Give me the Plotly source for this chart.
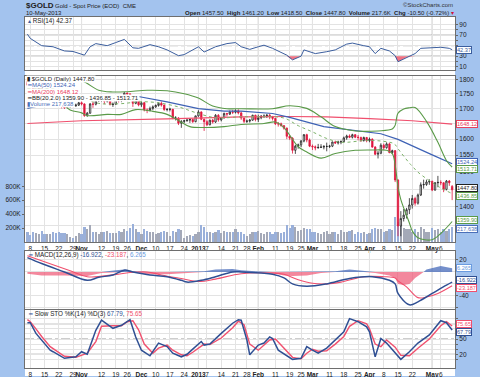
import math
import pandas as pd
import plotly.graph_objects as go

FONT = "Liberation Sans"

# ---------------- data ----------------
HOLIDAYS = ["2012-11-22", "2012-12-25", "2013-01-01", "2013-01-21", "2013-02-18", "2013-03-29"]
dates = [d.strftime("%Y-%m-%d") for d in pd.bdate_range("2012-10-05", "2013-05-10")
         if d.strftime("%Y-%m-%d") not in HOLIDAYS]

open_ = [1792,1780,1775,1764,1764,1770,1756,1738,1746,1752,
         1743,1724,1723,1707,1703,1712,1713,1709,1711,1719,
         1715,1676,1684,1715,1714,1725,1731,1731,1724,1730,
         1713,1714,1733,1726,1727,1752,1749,1742,1717,1725,
         1712,1719,1695,1693,1700,1705,1710,1717,1711,1696,
         1697,1697,1667,1668,1651,1657,1659,1661,1663,1656,
         1675,1688,1664,1656,1646,1661,1655,1677,1662,1669,
         1683,1681,1688,1687,1692,1685,1668,1657,1658,1661,
         1677,1663,1669,1674,1674,1677,1671,1667,1649,1649,
         1643,1635,1609,1603,1565,1578,1582,1594,1614,1597,
         1578,1576,1573,1574,1575,1577,1577,1578,1591,1588,
         1591,1592,1604,1610,1606,1614,1606,1605,1596,1605,
         1595,1600,1575,1553,1556,1581,1573,1585,1558,1564,
         1476,1348,1368,1377,1392,1405,1423,1410,1433,1462,
         1463,1470,1472,1447,1468,1469,1468,1449,1473,1457.5]
high = [1796,1785,1780,1770,1776,1772,1758,1750,1756,1755,
        1745,1730,1726,1716,1718,1718,1715,1716,1722,1725,
        1717,1688,1718,1725,1732,1738,1735,1733,1735,1731,
        1720,1737,1736,1734,1755,1754,1752,1744,1730,1728,
        1723,1722,1700,1706,1710,1713,1720,1723,1713,1700,
        1702,1698,1674,1671,1661,1662,1667,1667,1665,1676,
        1694,1690,1666,1661,1663,1665,1681,1681,1671,1686,
        1685,1693,1695,1697,1697,1690,1670,1663,1665,1679,
        1679,1679,1678,1680,1681,1682,1675,1668,1655,1653,
        1645,1637,1612,1606,1582,1586,1597,1616,1617,1602,
        1583,1580,1585,1584,1581,1589,1582,1592,1595,1595,
        1596,1608,1614,1615,1617,1616,1613,1608,1608,1607,
        1605,1602,1578,1563,1587,1586,1590,1589,1567,1566,
        1478,1388,1394,1397,1424,1433,1428,1437,1469,1477,
        1477,1478,1474,1470,1488,1475,1469,1476,1476,1461.2]
low = [1776,1771,1760,1759,1762,1752,1733,1735,1742,1738,
       1720,1717,1700,1698,1700,1702,1704,1705,1708,1710,
       1672,1672,1682,1702,1710,1722,1722,1714,1720,1710,
       1705,1712,1720,1721,1725,1742,1737,1705,1714,1707,
       1705,1690,1684,1690,1694,1702,1706,1706,1692,1690,
       1690,1664,1660,1645,1636,1651,1656,1652,1652,1654,
       1672,1661,1626,1642,1644,1650,1652,1656,1657,1666,
       1673,1678,1681,1683,1680,1662,1651,1652,1653,1659,
       1657,1655,1664,1668,1668,1664,1660,1645,1640,1640,
       1630,1600,1597,1555,1554,1570,1575,1590,1590,1575,
       1566,1565,1570,1572,1568,1562,1572,1575,1585,1583,
       1584,1590,1598,1603,1602,1603,1596,1591,1592,1590,
       1590,1573,1550,1540,1553,1566,1570,1556,1553,1470,
       1321,1321,1360,1368,1380,1395,1403,1406,1430,1451,
       1459,1462,1444,1445,1455,1461,1441,1446,1459,1418.5]
close = [1780,1775,1764,1764,1770,1756,1738,1746,1752,1743,
         1724,1723,1707,1703,1712,1713,1709,1711,1719,1715,
         1676,1684,1715,1714,1725,1731,1731,1724,1730,1713,
         1714,1733,1726,1727,1752,1749,1742,1717,1725,1712,
         1719,1695,1693,1700,1705,1710,1717,1711,1696,1697,
         1697,1667,1668,1651,1657,1659,1661,1663,1656,1675,
         1688,1664,1656,1646,1661,1655,1677,1662,1669,1683,
         1681,1688,1687,1692,1685,1668,1657,1658,1661,1677,
         1663,1669,1674,1674,1677,1671,1667,1649,1649,1643,
         1635,1609,1603,1565,1578,1582,1594,1614,1597,1578,
         1576,1573,1574,1575,1577,1577,1578,1591,1588,1591,
         1592,1604,1610,1606,1614,1606,1605,1596,1605,1595,
         1600,1575,1553,1556,1581,1573,1585,1558,1564,1476,
         1348,1368,1377,1392,1405,1423,1410,1433,1462,1463,
         1470,1472,1447,1468,1469,1468,1449,1473,1468,1447.8]
volume_k = [150,95,140,125,120,160,110,110,115,150,
            130,145,135,130,110,70,60,80,125,120,
            210,180,250,150,150,120,140,150,165,130,
            130,125,160,150,180,160,200,260,190,145,
            120,185,160,150,140,110,130,140,160,150,
            90,160,150,180,170,60,80,100,80,110,
            150,240,210,140,140,130,150,170,130,160,
            140,150,140,190,150,150,120,90,110,150,
            140,160,130,120,140,150,120,150,140,130,
            150,240,200,250,210,160,170,200,180,190,
            150,140,130,120,150,160,110,150,140,120,
            170,140,150,160,170,120,150,130,140,120,
            130,180,200,190,190,140,160,190,170,360,
            290,260,200,180,190,150,180,140,220,190,
            140,150,200,170,190,140,190,160,180,217.6]

ma50_d = ["10-05","10-19","11-02","11-16","11-29","12-14","01-02","01-15","01-24","02-08","02-19",
          "03-07","03-22","04-05","04-15","04-23","05-01","05-10"]
ma50_v = [1700,1722,1735,1740,1742,1722,1699,1691,1691,1683,1670,1640,1626,1617,1599,1576,1551,1524.24]
ma200_d = ["10-05","11-01","12-14","01-24","02-19","03-08","04-01","04-22","05-10"]
ma200_v = [1650,1659,1665,1672,1673,1672,1666,1659,1648.12]
bbu_d = ["10-05","10-19","11-01","11-09","11-16","11-26","12-05","12-14","12-24","01-02","01-09","01-16",
         "01-24","02-08","02-19","02-27","03-06","03-13","03-22","04-04","04-11","04-12","04-15","04-17",
         "04-19","04-23","04-29","05-03","05-08","05-10"]
bbu_v = [1798,1800,1795,1762,1756,1757,1762,1760,1750,1735,1708,1699,1699,1699,1709,1700,1672,1640,
         1626,1626,1632,1644,1684,1698,1702,1703,1657,1590,1534,1513.71]
bbm_d = ["10-05","10-19","11-01","11-09","11-21","11-30","12-10","12-20","12-31","01-10","01-24","02-04",
         "02-14","02-22","03-01","03-08","03-15","03-28","04-05","04-11","04-12","04-15","04-19","04-22",
         "04-24","05-03","05-10"]
bbm_v = [1768,1765,1737,1717,1716,1722,1720,1705,1686,1669,1672,1672,1668,1643,1623,1602,1590,1596,
         1594,1588,1583,1570,1526,1517,1499,1458,1436.85]
bbl_d = ["10-05","10-19","10-26","11-01","11-05","11-14","11-21","11-29","12-07","12-14","12-20","12-27",
         "01-04","01-15","01-24","02-05","02-11","02-14","02-22","02-27","03-06","03-13","03-22","04-03",
         "04-09","04-11","04-12","04-15","04-16","04-19","04-22","04-24","05-01","05-06","05-10"]
bbl_v = [1738,1730,1695,1685,1676,1680,1680,1696,1690,1680,1660,1640,1637,1640,1647,1650,1655,1637,
         1576,1560,1541,1555,1565,1566,1565,1555,1521,1456,1420,1356,1335,1317,1312,1328,1359.9]

rsi_d = ["10-05","10-08","10-12","10-18","10-24","10-29","11-02","11-06","11-08","11-14","11-19","11-23",
         "11-28","11-30","12-06","12-11","12-14","12-20","12-24","01-02","01-04","01-10","01-16","01-22",
         "01-24","01-29","02-01","02-05","02-08","02-15","02-20","02-25","02-26","03-04","03-08","03-13",
         "03-19","03-21","03-27","04-01","04-03","04-05","04-10","04-12","04-15","04-18","04-23","04-25",
         "04-30","05-06","05-09","05-10"]
rsi_v = [72,64,50,48,40,39,32,48,54,50,56,62,46,45,52,48,42,31,33,48,38,48,54,56,48,43,48,51,45,32,23,
         30,42,35,38.6,42,53,55,50,48,35,45,40,31,19.5,28,35,45,46,47,45,42.37]

macd_d = ["10-05","10-12","10-24","11-05","11-09","11-16","11-23","11-28","12-06","12-14","12-21","12-26",
          "01-03","01-10","01-18","01-24","02-04","02-08","02-14","02-20","02-27","03-08","03-20","04-02",
          "04-10","04-12","04-15","04-19","04-24","05-01","05-08","05-10"]
macd_v = [24,14,0,-14,-9,-5,3,0,-5,-8,-14,-17,-14,-8,0,0,-2,-4,-10,-20,-24,-20,-11,-8,-14,-20,-36,-55,
          -50,-36,-22,-16.922]
sig_d = ["10-05","10-10","10-26","11-05","11-16","11-27","12-05","12-12","12-21","01-02","01-10","01-24",
         "02-08","02-14","02-22","03-01","03-08","03-15","03-27","04-08","04-12","04-15","04-18","04-24",
         "04-29","05-03","05-10"]
sig_v = [27,22,2,-8,-5,-1,0,-5,-11,-16,-12,-3,-2,-4,-13,-19,-20,-17,-8,-8,-10,-15,-25,-43,-42,-36,-23.187]
hist_d = ["10-05","10-12","10-24","11-05","11-12","11-19","11-23","11-28","12-05","12-14","12-21","12-31",
          "01-04","01-10","01-18","01-24","01-31","02-08","02-14","02-20","02-27","03-06","03-13","03-20",
          "03-27","04-03","04-10","04-12","04-15","04-17","04-19","04-23","04-26","04-29","05-02","05-06",
          "05-10"]
hist_v = [-3,-6,-6,-7,-2,3,4,1,-4,-4,-3,-1,1,4,5,3,1,-2,-6,-7,-6,-2,1,4,2,-2,-6,-10,-20,-22,-20,-10,0,
          4,8,10,6.265]

stok_d = ["10-05","10-08","10-10","10-12","10-17","10-18","10-24","10-30","11-01","11-05","11-08","11-12",
          "11-16","11-21","11-27","11-29","12-03","12-06","12-11","12-14","12-18","12-21","12-26","12-28",
          "01-03","01-04","01-08","01-14","01-18","01-23","01-24","01-28","01-29","02-01","02-05","02-07",
          "02-08","02-12","02-15","02-20","02-25","02-27","03-01","03-05","03-08","03-13","03-18","03-20",
          "03-25","03-28","04-01","04-03","04-05","04-09","04-12","04-16","04-19","04-24","04-30","05-06",
          "05-08","05-10"]
stok_v = [82,82,61,48,28,25,12,15,25,20,67,87,71,77,88,54,28,17,42,35,22,15,20,30,45,38,40,61,81,88,87,
          48,19,38,42,54,51,28,17,10,12,35,28,22,32,48,64,90,84,74,64,15,51,42,22,10,25,42,58,86,82,67.79]
stod_d = ["10-05","10-08","10-10","10-12","10-17","10-19","10-24","10-30","11-01","11-05","11-08","11-12",
          "11-16","11-21","11-26","11-28","11-30","12-04","12-07","12-11","12-14","12-18","12-21","12-26",
          "12-28","01-03","01-04","01-08","01-14","01-18","01-23","01-25","01-29","02-01","02-05","02-07",
          "02-11","02-13","02-15","02-20","02-25","02-27","03-01","03-05","03-08","03-13","03-18","03-20",
          "03-25","03-28","04-01","04-03","04-05","04-09","04-12","04-16","04-19","04-24","04-30","05-06",
          "05-08","05-10"]
stod_v = [88,84,70,55,35,28,16,14,18,22,45,75,76,76,84,86,68,40,22,32,38,28,19,17,24,36,40,39,52,72,85,
          78,40,28,38,48,50,38,24,14,11,22,30,26,27,40,55,75,86,80,70,40,35,48,34,18,17,32,50,76,84,75.65]

tick_d = ["10-08","10-15","10-22","10-29","11-01","11-12","11-19","11-26","12-03","12-10","12-17","12-24",
          "01-02","01-07","01-14","01-22","01-28","02-01","02-11","02-19","02-25","03-01","03-11","03-18",
          "03-25","04-01","04-08","04-15","04-22","05-01","05-06"]
tick_t = ["8","15","22","29","Nov","12","19","26","Dec","10","17","24","2013","7","14","21","28","Feb",
          "11","19","25","Mar","11","18","25","Apr","8","15","22","May","6"]
month_t = ["Nov","Dec","2013","Feb","Mar","Apr","May"]

# ---------------- helpers ----------------
pos = {d: i for i, d in enumerate(dates)}


def ix(mds):
    return [pos[("2012-" if int(m[:2]) >= 10 else "2013-") + m] for m in mds]


X = list(range(len(dates)))
W, H = 480, 377
L, R, T, B = 25, 25, 17, 9
PW, PH = W - L - R, H - T - B


def pxx(px):
    return (px - L) / PW


def pxy(py):
    return (H - B - py) / PH


XR = [-0.84, 150.0]
GRID = "#E3E3E3"
LINE = "#6E6E6E"
BLUE = "#2F4F93"
RED = "#F0506E"
GREEN = "#5A9A48"

fig = go.Figure()

# ---------- RSI panel ----------
rx = ix(rsi_d)
fig.add_trace(go.Scatter(x=rx, y=[30] * len(rx), mode="lines", line=dict(width=0),
                         xaxis="x", yaxis="y", hoverinfo="skip", showlegend=False))
fig.add_trace(go.Scatter(x=rx, y=[min(v, 30) for v in rsi_v], mode="lines", line=dict(width=0),
                         fill="tonexty", fillcolor="rgba(240,90,110,0.85)",
                         xaxis="x", yaxis="y", hoverinfo="skip", showlegend=False))
fig.add_trace(go.Scatter(x=rx, y=rsi_v, mode="lines", line=dict(color="#3B5E9E", width=1),
                         xaxis="x", yaxis="y", showlegend=False))

# ---------- main panel ----------
vcol = ["#A4A9B8" if c >= o else "#9AB0DA" for o, c in zip(open_, close)]
fig.add_trace(go.Bar(x=X, y=[v * 1000 for v in volume_k], marker=dict(color=vcol, line=dict(width=0)),
                     width=0.78, xaxis="x2", yaxis="y2", showlegend=False, hoverinfo="skip"))
fig.add_trace(go.Scatter(x=ix(ma200_d), y=ma200_v, mode="lines", line=dict(color=RED, width=1.2),
                         xaxis="x2", yaxis="y3", showlegend=False))
fig.add_trace(go.Scatter(x=ix(ma50_d), y=ma50_v, mode="lines", line=dict(color="#3E62B5", width=1.2),
                         xaxis="x2", yaxis="y3", showlegend=False))
fig.add_trace(go.Scatter(x=ix(bbu_d), y=bbu_v, mode="lines", line=dict(color=GREEN, width=1.1, shape="spline"),
                         xaxis="x2", yaxis="y3", showlegend=False))
fig.add_trace(go.Scatter(x=ix(bbl_d), y=bbl_v, mode="lines", line=dict(color=GREEN, width=1.1, shape="spline"),
                         xaxis="x2", yaxis="y3", showlegend=False))
fig.add_trace(go.Scatter(x=ix(bbm_d), y=bbm_v, mode="lines",
                         line=dict(color="#7DB36A", width=1, dash="dot", shape="spline"),
                         xaxis="x2", yaxis="y3", showlegend=False))
fig.add_trace(go.Candlestick(x=X, open=open_, high=high, low=low, close=close,
                             increasing=dict(line=dict(color="#222222", width=0.8), fillcolor="white"),
                             decreasing=dict(line=dict(color="#E0163E", width=0.8), fillcolor="#E0163E"),
                             whiskerwidth=0, xaxis="x2", yaxis="y3", showlegend=False, hoverinfo="skip"))

# ---------- MACD panel ----------
hx = ix(hist_d)
fig.add_trace(go.Scatter(x=hx, y=[max(v, 0) for v in hist_v], mode="lines", line=dict(width=0),
                         fill="tozeroy", fillcolor="rgba(70,105,185,0.75)",
                         xaxis="x3", yaxis="y4", showlegend=False, hoverinfo="skip"))
fig.add_trace(go.Scatter(x=hx, y=[min(v, 0) for v in hist_v], mode="lines", line=dict(width=0),
                         fill="tozeroy", fillcolor="rgba(238,85,115,0.7)",
                         xaxis="x3", yaxis="y4", showlegend=False, hoverinfo="skip"))
fig.add_trace(go.Scatter(x=ix(sig_d), y=sig_v, mode="lines", line=dict(color=RED, width=1.1, shape="spline"),
                         xaxis="x3", yaxis="y4", showlegend=False))
fig.add_trace(go.Scatter(x=ix(macd_d), y=macd_v, mode="lines", line=dict(color=BLUE, width=1.5, shape="spline"),
                         xaxis="x3", yaxis="y4", showlegend=False))

# ---------- Slow STO panel ----------
fig.add_trace(go.Scatter(x=ix(stod_d), y=stod_v, mode="lines", line=dict(color=RED, width=1.4),
                         xaxis="x4", yaxis="y5", showlegend=False))
fig.add_trace(go.Scatter(x=ix(stok_d), y=stok_v, mode="lines", line=dict(color=BLUE, width=1.5),
                         xaxis="x4", yaxis="y5", showlegend=False))

# ---------------- axes ----------------
tv = ix(tick_d)
tt = ["<b>%s</b>" % t if t in month_t else t for t in tick_t]
tfont = dict(size=6.5, family=FONT, color="#222")


def xax(anchor, labels):
    return dict(range=XR, tickvals=tv, ticktext=tt, showgrid=True, gridcolor=GRID, gridwidth=1,
                zeroline=False, showline=True, mirror=True, linecolor=LINE, linewidth=1, ticks="",
                tickfont=tfont, showticklabels=labels, anchor=anchor, domain=[0, 1], tickangle=0,
                automargin=False, rangeslider=dict(visible=False), fixedrange=True)


def yax(dom, rng, tvals, ttext, **kw):
    d = dict(domain=dom, range=rng, tickvals=tvals, ticktext=ttext, side="right", showgrid=True,
             gridcolor=GRID, zeroline=False, showline=True, mirror=True, linecolor=LINE, linewidth=1,
             ticks="outside", ticklen=2, tickcolor="#666", tickfont=tfont, fixedrange=True,
             automargin=False)
    d.update(kw)
    return d


rsi_ticks = [10, 20, 30, 40, 50, 60, 70, 80, 90]
rsi_text = ["10", "", "30", "", "", "", "70", "", "90"]
price_ticks = [1350, 1400, 1450, 1500, 1550, 1600, 1650, 1700, 1750, 1800]
price_text = ["", "1400", "", "1500", "1550", "1600", "", "1700", "1750", "1800"]
macd_ticks = [-60, -40, -20, 0, 20]
macd_text = ["", "-40", "", "", "20"]
sto_ticks = [10, 20, 30, 40, 50, 60, 70, 80, 90]
sto_text = ["", "20", "", "", "50", "", "", "", ""]

fig.update_layout(
    xaxis=xax("y", False),
    yaxis=yax([pxy(70), pxy(17)], [3.7, 104.7], rsi_ticks, rsi_text, anchor="x"),
    xaxis2=xax("y2", True),
    yaxis2=dict(domain=[pxy(242), pxy(75.5)], range=[0, 2390000], side="left", anchor="x2",
                tickvals=[200000, 400000, 600000, 800000], ticktext=["200K", "400K", "600K", "800K"],
                showgrid=False, zeroline=False, showline=True, mirror=True, linecolor=LINE, linewidth=1,
                ticks="outside", ticklen=2, tickcolor="#666", tickfont=tfont, fixedrange=True,
                automargin=False),
    yaxis3=dict(overlaying="y2", anchor="x2", side="right", type="log",
                range=[math.log10(1306), math.log10(1814)], tickvals=price_ticks,
                ticktext=price_text, showgrid=True, gridcolor=GRID, zeroline=False,
                showline=False, ticks="outside", ticklen=2, tickcolor="#666", tickfont=tfont, fixedrange=True,
                automargin=False),
    xaxis3=xax("y4", False),
    yaxis4=yax([pxy(309), pxy(251)], [-62, 35], macd_ticks, macd_text, anchor="x3"),
    xaxis4=xax("y5", True),
    yaxis5=yax([pxy(368), pxy(309.5)], [-7, 108], sto_ticks, sto_text, anchor="x4"),
    width=W, height=H, margin=dict(l=L, r=R, t=T, b=B, pad=0, autoexpand=False),
    paper_bgcolor="#A3C3EE", plot_bgcolor="white",
    showlegend=False, font=dict(family=FONT, size=7, color="#222"),
    bargap=0,
)

# white chart body
fig.add_shape(type="rect", xref="paper", yref="paper", x0=0, x1=1, y0=pxy(376), y1=pxy(17),
              fillcolor="white", line=dict(width=0), layer="below")

# month lines
mtv = [v for v, t in zip(tv, tick_t) if t in month_t]
for xr, yr in [("x", "y domain"), ("x2", "y2 domain"), ("x3", "y4 domain"), ("x4", "y5 domain")]:
    for m in mtv:
        fig.add_shape(type="line", xref=xr, yref=yr, x0=m, x1=m, y0=0, y1=1,
                      line=dict(color="#B4B4B4", width=1), layer="below")

# threshold lines
for yr, lv in [("y", [(70, "solid"), (30, "solid"), (50, "dashdot")]),
               ("y5", [(80, "solid"), (20, "solid"), (50, "dashdot")])]:
    for v, ds in lv:
        fig.add_shape(type="line", xref="x domain" if yr == "y" else "x4 domain", yref=yr, x0=0, x1=1,
                      y0=v, y1=v, line=dict(color="#8A8A8A" if ds == "solid" else "#9A9A9A",
                                            width=1, dash=ds), layer="below")


# ---------------- text ----------------
def note(text, xpx, ypx, size=6.5, xanchor="left", color="#222", **kw):
    fig.add_annotation(text=text, x=pxx(xpx), y=pxy(ypx), xref="paper", yref="paper",
                       xanchor=xanchor, yanchor="middle", showarrow=False,
                       font=dict(size=size, color=color, family=FONT), **kw)


note("<b>$GOLD</b>", 24, 5.5, size=8)
note("Gold - Spot Price (EOD)  CME", 53, 5.5, size=6)
note("10-May-2013", 24, 13, size=6)
note("©StockCharts.com", 455, 5, size=6, xanchor="right", color="#333")
note("<b>Open</b> 1457.50  <b>High</b> 1461.20  <b>Low</b> 1418.50  <b>Close</b> 1447.80  "
     "<b>Volume</b> 217.6K  <b>Chg</b> -10.50 (-0.72%) <span style='color:#D0103A'>▾</span>",
     456, 13, size=6, xanchor="right")

WB = "white"
note("<span style='color:#3B5E9E'>▴</span> RSI(14) 42.37", 26, 20.5, size=6.3)
note("<b>▮</b> $GOLD (Daily) 1447.80", 26, 79, size=6, bgcolor=WB, borderpad=0)
note("<span style='color:#3E62B5'>━MA(50) 1524.24</span>", 26, 85.3, size=6, bgcolor=WB, borderpad=0)
note("<span style='color:#E8405E'>━MA(200) 1648.12</span>", 26, 91.6, size=6, bgcolor=WB, borderpad=0)
note("━BB(20,2.0) 1359.90 - 1436.85 - 1513.71", 26, 97.9, size=6, bgcolor=WB, borderpad=0)
note("<span style='color:#4A6FB8'>▮Volume 217,638</span>", 26, 104.2, size=6, bgcolor=WB, borderpad=0)
note("<span style='color:#2F4F93'>━</span> MACD(12,26,9) <span style='color:#2F4F93'>-16.922</span>, "
     "<span style='color:#F0506E'>-23.187</span>, <span style='color:#6A9BE0'>6.265</span>",
     26, 255, size=6.3)
note("<span style='color:#2F4F93'>━</span> Slow STO %K(14) %D(3) <span style='color:#2F4F93'>67.79</span>, "
     "<span style='color:#F0506E'>75.65</span>", 26, 314, size=6.3)


def tag(text, yval, yref, color, dy=0):
    fig.add_annotation(text=text, x=1, xref="paper", xanchor="left", xshift=1, y=yval, yref=yref,
                       yshift=dy, yanchor="middle", showarrow=False,
                       font=dict(size=5.6, color=color, family=FONT),
                       bgcolor="white", bordercolor=color, borderwidth=1, borderpad=0)


tag("42.37", 42.37, "y", "#3B5E9E")
tag("1648.12", math.log10(1648.12), "y3", "#E8405E")
tag("1524.24", math.log10(1524.24), "y3", "#3E62B5", 2)
tag("1513.71", math.log10(1513.71), "y3", GREEN, -2)
tag("1447.80", math.log10(1447.8), "y3", "#222", 2)
tag("1436.85", math.log10(1436.85), "y3", GREEN, -2)
tag("1359.90", math.log10(1359.9), "y3", GREEN, 2)
tag("217,638", 217638, "y2", "#4A6FB8", -2)
tag("6.265", 6.265, "y4", "#6A9BE0")
tag("-16.922", -16.922, "y4", BLUE, 2)
tag("-23.187", -23.187, "y4", RED, -2)
tag("75.65", 75.65, "y5", RED, 2)
tag("67.79", 67.79, "y5", BLUE, -2)

fig.write_html("out.html", config={"displayModeBar": False, "staticPlot": True},
               post_script="document.body.style.margin='0';document.body.style.padding='0';"
                           "document.body.style.overflow='hidden';")
